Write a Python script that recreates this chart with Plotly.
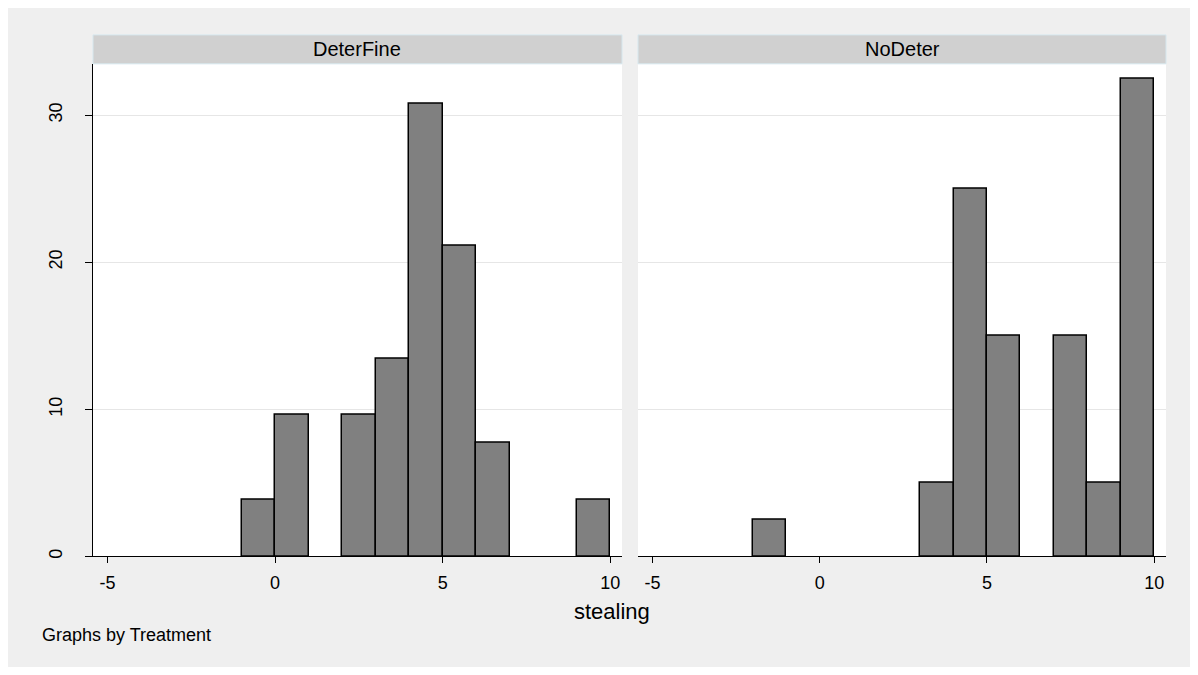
import plotly.graph_objects as go

# ---- data ----
panels = ["DeterFine", "NoDeter"]
bin_lo_deterfine = [-1, 0, 2, 3, 4, 5, 6, 9]
pct_deterfine = [3.85, 9.62, 9.62, 13.46, 30.77, 21.15, 7.69, 3.85]
bin_lo_nodeter = [-2, 3, 4, 5, 7, 8, 9]
pct_nodeter = [2.5, 5.0, 25.0, 15.0, 15.0, 5.0, 32.5]
bin_width = 1
x_ticks = [-5, 0, 5, 10]
x_ticktext = ["-5", "0", "5", "10"]
y_ticks = [0, 10, 20, 30]
x_title = "stealing"
note_text = "Graphs by Treatment"

# ---- layout geometry (screen pixels; page body has an 8px margin) ----
OFF = 8
W, H = 1198 - 2 * OFF, 675 - 2 * OFF
FONT = "Liberation Sans, Arial, sans-serif"
BG = "#efefef"
STRIP = "#d0d0d0"
STRIP_LINE = "#d6e7ee"


def px_x(p):
    return (p - OFF) / W


def px_y(p):
    return 1 - (p - OFF) / H


plot_top, plot_bot = 64, 558
strip_top = 35
dom_left = [px_x(93), px_x(622)]
dom_right = [px_x(638), px_x(1166)]
ydom = [px_y(plot_bot), px_y(plot_top)]

fig = go.Figure()
for lo, pct, xa, ya in [
    (bin_lo_deterfine, pct_deterfine, "x", "y"),
    (bin_lo_nodeter, pct_nodeter, "x2", "y2"),
]:
    fig.add_trace(go.Bar(
        x=[v + bin_width / 2 for v in lo],
        y=pct,
        width=[bin_width] * len(lo),
        marker=dict(color="#808080", line=dict(color="#000000", width=1.5)),
        xaxis=xa, yaxis=ya, showlegend=False,
        hoverinfo="x+y",
    ))

xr = [-5.43, 10.35]
yr = [0, 33.5]
common_x = dict(
    range=xr, tickvals=x_ticks, ticktext=x_ticktext, ticks="outside",
    ticklen=6, tickcolor="#000", ticklabelstandoff=4,
    showline=True, linecolor="#000", linewidth=1, showgrid=False, zeroline=False,
    tickfont=dict(family=FONT, size=18, color="#000"), fixedrange=True,
)
fig.update_layout(
    width=W, height=H,
    margin=dict(l=0, r=0, t=0, b=0),
    paper_bgcolor=BG, plot_bgcolor="#ffffff",
    bargap=0,
    xaxis=dict(domain=dom_left, anchor="y", **common_x),
    xaxis2=dict(domain=dom_right, anchor="y2", **common_x),
    yaxis=dict(
        domain=ydom, anchor="x", range=yr, tickvals=y_ticks, ticks="outside",
        ticklen=7, tickcolor="#000", tickangle=-90, showline=True,
        ticklabelstandoff=16,
        linecolor="#000", linewidth=1, showgrid=True, gridcolor="#e6e6e6",
        gridwidth=1, zeroline=False, fixedrange=True,
        tickfont=dict(family=FONT, size=18, color="#000"),
    ),
    yaxis2=dict(
        domain=ydom, anchor="x2", range=yr, tickvals=y_ticks,
        showticklabels=False, ticks="", showline=False, showgrid=True,
        gridcolor="#e6e6e6", gridwidth=1, zeroline=False, fixedrange=True,
    ),
    font=dict(family=FONT, color="#000"),
)

shapes = []
annotations = []
for name, dom in zip(panels, [dom_left, dom_right]):
    shapes.append(dict(
        type="rect", xref="paper", yref="paper",
        x0=dom[0], x1=dom[1], y0=px_y(plot_top), y1=px_y(strip_top),
        fillcolor=STRIP, line=dict(color=STRIP_LINE, width=1), layer="below",
    ))
    annotations.append(dict(
        text=name, xref="paper", yref="paper",
        x=(dom[0] + dom[1]) / 2, y=px_y((strip_top + plot_top) / 2),
        xanchor="center", yanchor="middle", showarrow=False,
        font=dict(family=FONT, size=20, color="#000"),
    ))
annotations.append(dict(
    text=x_title, xref="paper", yref="paper", x=px_x(612), y=px_y(613),
    xanchor="center", yanchor="middle", showarrow=False,
    font=dict(family=FONT, size=22, color="#000"),
))
annotations.append(dict(
    text=note_text, xref="paper", yref="paper", x=px_x(40), y=px_y(637),
    xanchor="left", yanchor="middle", showarrow=False,
    font=dict(family=FONT, size=18, color="#000"),
))
fig.update_layout(shapes=shapes, annotations=annotations)

fig.write_html("out.html")
